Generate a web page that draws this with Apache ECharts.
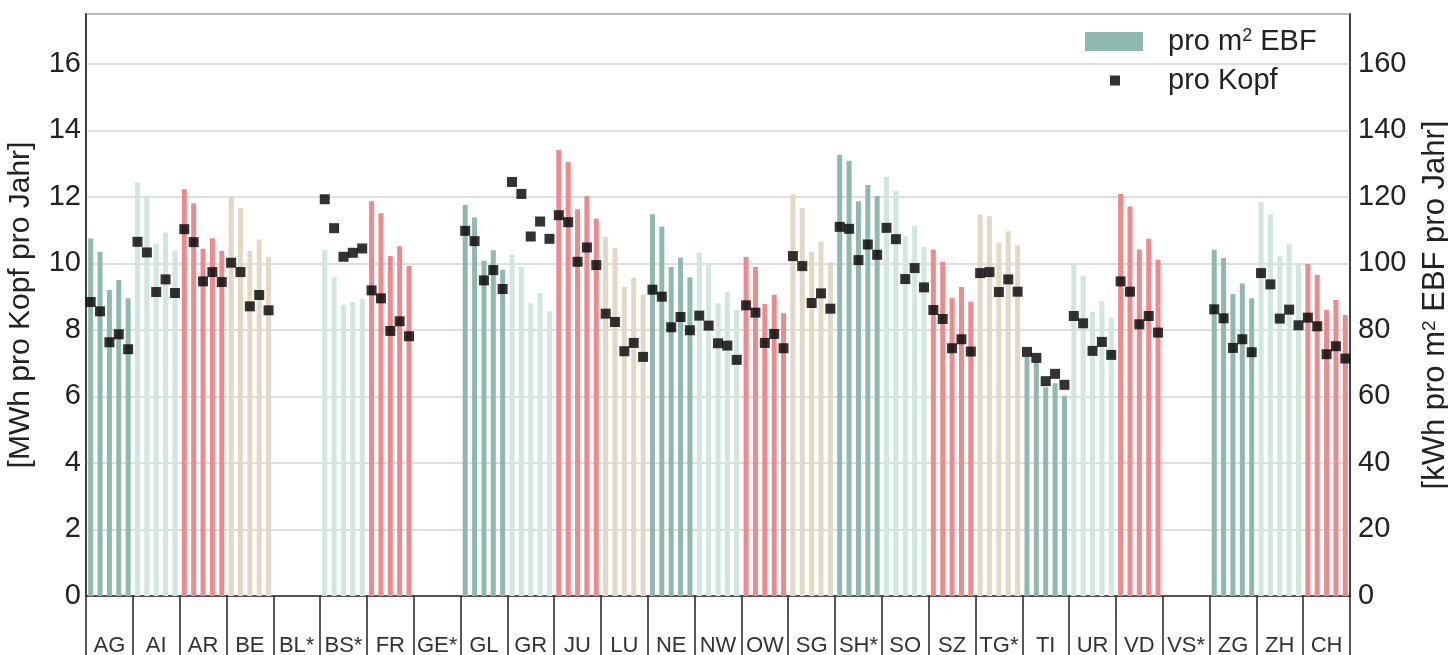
<!DOCTYPE html>
<html>
<head>
<meta charset="utf-8">
<script src="https://cdn.jsdelivr.net/npm/echarts@6/dist/echarts.min.js"></script>
<style>
html,body{margin:0;padding:0;background:#fff;}
#chart{width:1448px;height:655px;}
</style>
</head>
<body>
<div id="chart"></div>
<script>
// Regions (Kantone)
const regions = ['AG','AI','AR','BE','BL*','BS*','FR','GE*','GL','GR','JU','LU','NE','NW','OW','SG','SH*','SO','SZ','TG*','TI','UR','VD','VS*','ZG','ZH','CH'];
// Colour group per region (0 dark teal, 1 light teal, 2 red, 3 beige)
const groups = [0,1,2,3,0,1,2,3,0,1,2,3,0,1,2,3,0,1,2,3,0,1,2,3,0,1,2];
const groupColors = ['#8fb8b0','#d0e6df','#ee8a8c','#e3d8c6'];
// kWh pro m2 EBF pro Jahr, five values per region (right axis)
const ebf = [
  [107.5,103.5,92.0,95.0,89.5],
  [124.3,120.4,106.0,109.3,103.9],
  [122.3,118.1,104.4,107.6,103.7],
  [120.1,116.6,103.7,107.2,101.9],
  null,
  [104.1,95.8,87.6,88.4,89.4],
  [118.7,115.1,102.2,105.2,99.2],
  null,
  [117.6,113.8,100.8,104.0,98.1],
  [102.6,99.0,88.0,91.0,85.6],
  [134.1,130.5,116.3,120.3,113.4],
  [108.0,104.7,92.9,95.7,90.6],
  [114.8,111.1,98.9,101.7,95.8],
  [103.2,100.1,88.0,91.5,86.0],
  [101.9,98.9,87.8,90.6,85.0],
  [120.7,116.6,103.5,106.5,100.4],
  [132.7,130.9,118.7,123.6,120.3],
  [126.0,121.8,108.1,111.3,104.9],
  [104.1,100.5,89.6,92.9,88.5],
  [114.6,114.2,106.2,109.7,105.4],
  [72.0,70.5,62.8,64.0,60.2],
  [100.1,96.3,85.5,88.7,83.7],
  [120.9,117.1,104.2,107.4,101.1],
  null,
  [104.1,101.6,90.8,94.0,89.5],
  [118.4,114.8,102.3,105.8,99.8],
  [99.8,96.5,86.0,89.0,84.5]
];
// MWh pro Kopf pro Jahr, five values per region (left axis)
const kopf = [
  [8.84,8.56,7.63,7.87,7.42],
  [10.65,10.33,9.14,9.52,9.11],
  [11.03,10.64,9.46,9.74,9.44],
  [10.02,9.74,8.71,9.05,8.59],
  null,
  [11.93,11.06,10.20,10.32,10.45],
  [9.19,8.95,7.97,8.26,7.81],
  null,
  [10.98,10.67,9.49,9.80,9.23],
  [12.45,12.09,10.81,11.26,10.74],
  [11.45,11.24,10.05,10.48,9.95],
  [8.49,8.24,7.36,7.61,7.19],
  [9.21,9.00,8.08,8.39,7.99],
  [8.43,8.13,7.60,7.53,7.10],
  [8.74,8.52,7.61,7.88,7.45],
  [10.22,9.92,8.81,9.10,8.64],
  [11.10,11.04,10.10,10.57,10.26],
  [11.07,10.73,9.53,9.86,9.28],
  [8.60,8.33,7.45,7.72,7.35],
  [9.71,9.74,9.14,9.52,9.15],
  [7.34,7.16,6.46,6.68,6.35],
  [8.42,8.20,7.37,7.64,7.25],
  [9.46,9.15,8.17,8.42,7.92],
  null,
  [8.62,8.35,7.46,7.72,7.33],
  [9.71,9.37,8.34,8.61,8.14],
  [8.37,8.11,7.27,7.51,7.14]
];
const leftTicks = {min:0, max:17.5, interval:2};
const rightTicks = {min:0, max:175, interval:20};
const perRegion = 5;

const slots = [], barData = [], dotData = [];
regions.forEach((r, i) => {
  for (let k = 0; k < perRegion; k++) {
    slots.push(r + '-' + k);
    const e = ebf[i], p = kopf[i];
    barData.push(e ? {value: e[k], itemStyle: {color: groupColors[groups[i]]}} : null);
    dotData.push(p ? p[k] : null);
  }
});

const FONT = '"Liberation Sans", Arial, sans-serif';
const supStyle = {fontSize: 19, verticalAlign: 'top', fontFamily: FONT, color: '#222'};
const chart = echarts.init(document.getElementById('chart'), null, {renderer: 'canvas'});
chart.setOption({
  animation: false,
  textStyle: {fontFamily: FONT},
  grid: {left: 86, right: 98, top: 14, bottom: 59, show: true, borderColor: '#333', borderWidth: 1.5,
         backgroundColor: 'transparent', outerBoundsMode: 'none', containLabel: false},
  legend: [
    {data: ['pro m2 EBF'], left: 1085, top: 27, padding: 0, itemWidth: 58, itemHeight: 19, icon: 'rect',
     formatter: () => 'pro m{sup|2} EBF',
     textStyle: {fontSize: 29, color: '#222', fontFamily: FONT, padding: [0,0,0,20],
                 rich: {sup: Object.assign({}, supStyle, {fontSize: 18})}}},
    {data: ['pro Kopf'], left: 1110, top: 66, padding: 0, itemWidth: 10, itemHeight: 10, icon: 'rect',
     textStyle: {fontSize: 29, color: '#222', fontFamily: FONT, padding: [0,0,0,43]}}
  ],
  xAxis: [
    {type: 'category', data: slots, boundaryGap: true, position: 'bottom',
     axisLine: {show: true, lineStyle: {color: '#333', width: 1.5}},
     axisTick: {show: false}, axisLabel: {show: false}, splitLine: {show: false}},
    {type: 'category', data: regions, boundaryGap: true, position: 'bottom',
     axisLine: {show: false},
     axisTick: {show: true, length: 62, interval: 0, lineStyle: {color: '#222', width: 1.5}},
     axisLabel: {show: true, interval: 0, margin: 39, fontSize: 22, color: '#333', fontFamily: FONT},
     splitLine: {show: false}}
  ],
  yAxis: [
    {type: 'value', position: 'left', min: leftTicks.min, max: leftTicks.max, interval: leftTicks.interval,
     name: '[MWh pro Kopf pro Jahr]', nameLocation: 'middle', nameGap: 50,
     nameTextStyle: {fontSize: 30, color: '#222', fontFamily: FONT},
     axisLine: {show: true, lineStyle: {color: '#333', width: 1.5}}, axisTick: {show: false},
     axisLabel: {fontSize: 29, color: '#222', margin: 5, showMaxLabel: false, fontFamily: FONT},
     splitLine: {show: true, lineStyle: {color: '#d4d4d4', width: 1.5}}},
    {type: 'value', position: 'right', min: rightTicks.min, max: rightTicks.max, interval: rightTicks.interval,
     name: '[kWh pro m{sup|2} EBF pro Jahr]', nameLocation: 'middle', nameGap: 70,
     nameTextStyle: {fontSize: 31, color: '#222', fontFamily: FONT, rich: {sup: supStyle}},
     axisLine: {show: true, lineStyle: {color: '#333', width: 1.5}}, axisTick: {show: false},
     axisLabel: {fontSize: 29, color: '#222', margin: 8, showMaxLabel: false, fontFamily: FONT},
     splitLine: {show: false}}
  ],
  series: [
    {name: 'pro m2 EBF', type: 'bar', xAxisIndex: 0, yAxisIndex: 1, data: barData, barWidth: 5,
     itemStyle: {color: '#8fb8b0'}, z: 2},
    {name: 'pro Kopf', type: 'scatter', xAxisIndex: 0, yAxisIndex: 0, data: dotData,
     symbol: 'rect', symbolSize: 10, itemStyle: {color: '#000'}, z: 5}
  ]
});
</script>
</body>
</html>
